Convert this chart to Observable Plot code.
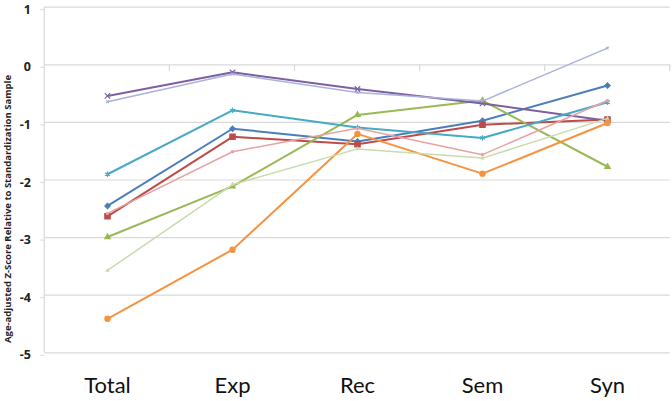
<!DOCTYPE html>
<html>
<head>
<meta charset="utf-8">
<script src="https://cdn.jsdelivr.net/npm/d3@7"></script>
<script src="https://cdn.jsdelivr.net/npm/@observablehq/plot@0.6"></script>
<style>
  html, body { margin: 0; padding: 0; background: #fff; }
  #chart svg { display: block; }
</style>
</head>
<body>
<div id="chart"></div>
<script>
const categories = ["Total", "Exp", "Rec", "Sem", "Syn"];
const yTicks = [1, 0, -1, -2, -3, -4, -5];

const seriesNames = ["S1", "S2", "S3", "S4", "S5", "S6", "S7", "S8", "S9"];
const s1 = [-2.45, -1.11, -1.33, -0.97, -0.36];
const s2 = [-2.63, -1.25, -1.38, -1.04, -0.95];
const s3 = [-2.99, -2.11, -0.87, -0.62, -1.77];
const s4 = [-0.54, -0.13, -0.42, -0.67, -0.97];
const s5 = [-1.90, -0.79, -1.09, -1.27, -0.65];
const s6 = [-4.41, -3.21, -1.20, -1.89, -1.01];
const s7 = [-0.64, -0.16, -0.48, -0.63, 0.29];
const s8 = [-2.58, -1.51, -1.10, -1.56, -0.62];
const s9 = [-3.57, -2.08, -1.46, -1.62, -0.93];

const seriesColors = ["#4a7ebb", "#be4b48", "#98b954", "#7d60a0", "#46aac5", "#f69240", "#aab1dd", "#e6a3a2", "#c6dcaa"];
const seriesSymbols = ["diamond2", "square", "triangle2", "times", "asterisk", "circle", "times", "circle", "triangle2"];
const seriesWidths = [2, 2, 2, 2, 2, 2, 1.5, 1.5, 1.5];
const markerSizes = [2.4, 3, 2.6, 2.6, 2.6, 2.6, 1.3, 1.1, 1.1];

const allSeries = [s1, s2, s3, s4, s5, s6, s7, s8, s9];
const data = [];
allSeries.forEach((vals, i) => {
  vals.forEach((v, j) => data.push({series: seriesNames[i], idx: i, cat: categories[j], value: v}));
});

const W = 672, H = 401;
const mL = 44.3, mR = 2.2, mT = 6.7, mB = H - 352.3;

const marks = [
  Plot.ruleY(yTicks, {stroke: "#d9d9d9", strokeWidth: 1.2}),
  Plot.axisY({ticks: yTicks, tickSize: 4, tickPadding: 10, dy: 2.5, stroke: "#d9d9d9", fontSize: 12.5, fontWeight: "bold", fill: "#222", tickFormat: d => String(d), label: null, fontFamily: "Open Sans, sans-serif"}),
  Plot.text(categories, {x: d => d, y: -5, dy: 33, fontSize: 22, fill: "#111", fontFamily: "Lato, sans-serif", text: d => d})
];

allSeries.forEach((vals, i) => {
  const rows = data.filter(d => d.idx === i);
  marks.push(Plot.line(rows, {x: "cat", y: "value", stroke: seriesColors[i], strokeWidth: seriesWidths[i]}));
  marks.push(Plot.dot(rows, {x: "cat", y: "value", symbol: seriesSymbols[i], r: markerSizes[i], fill: seriesColors[i], stroke: seriesColors[i], strokeWidth: 1.2}));
});

const chart = Plot.plot({
  width: W,
  height: H,
  marginLeft: mL,
  marginRight: mR,
  marginTop: mT,
  marginBottom: mB,
  style: {background: "#fff", overflow: "visible"},
  x: {type: "point", domain: categories, padding: 0.5, axis: null},
  y: {domain: [-5, 1], axis: null},
  marks
});

const svg = d3.select(chart);
const ys = chart.scale("y");
const step = (W - mL - mR) / categories.length;
const y0 = ys.apply(0);
const axG = svg.insert("g", ":first-child").attr("stroke", "#d9d9d9").attr("stroke-width", 1.2);
// vertical value-axis line
axG.append("line").attr("x1", mL).attr("x2", mL).attr("y1", ys.apply(1)).attr("y2", ys.apply(-5));
// category boundary ticks on the zero line
for (let k = 1; k <= categories.length; k++) {
  axG.append("line").attr("x1", mL + k * step).attr("x2", mL + k * step).attr("y1", y0).attr("y2", y0 + 7);
}
// y axis title
svg.append("text")
  .attr("transform", "translate(8,209) rotate(-90)")
  .attr("text-anchor", "middle")
  .attr("dominant-baseline", "middle")
  .attr("font-family", "Open Sans, sans-serif")
  .attr("font-weight", "bold")
  .attr("font-size", 9.5)
  .attr("fill", "#222")
  .text("Age-adjusted Z-Score Relative to Standardization Sample");

document.getElementById("chart").appendChild(chart);
</script>
</body>
</html>
